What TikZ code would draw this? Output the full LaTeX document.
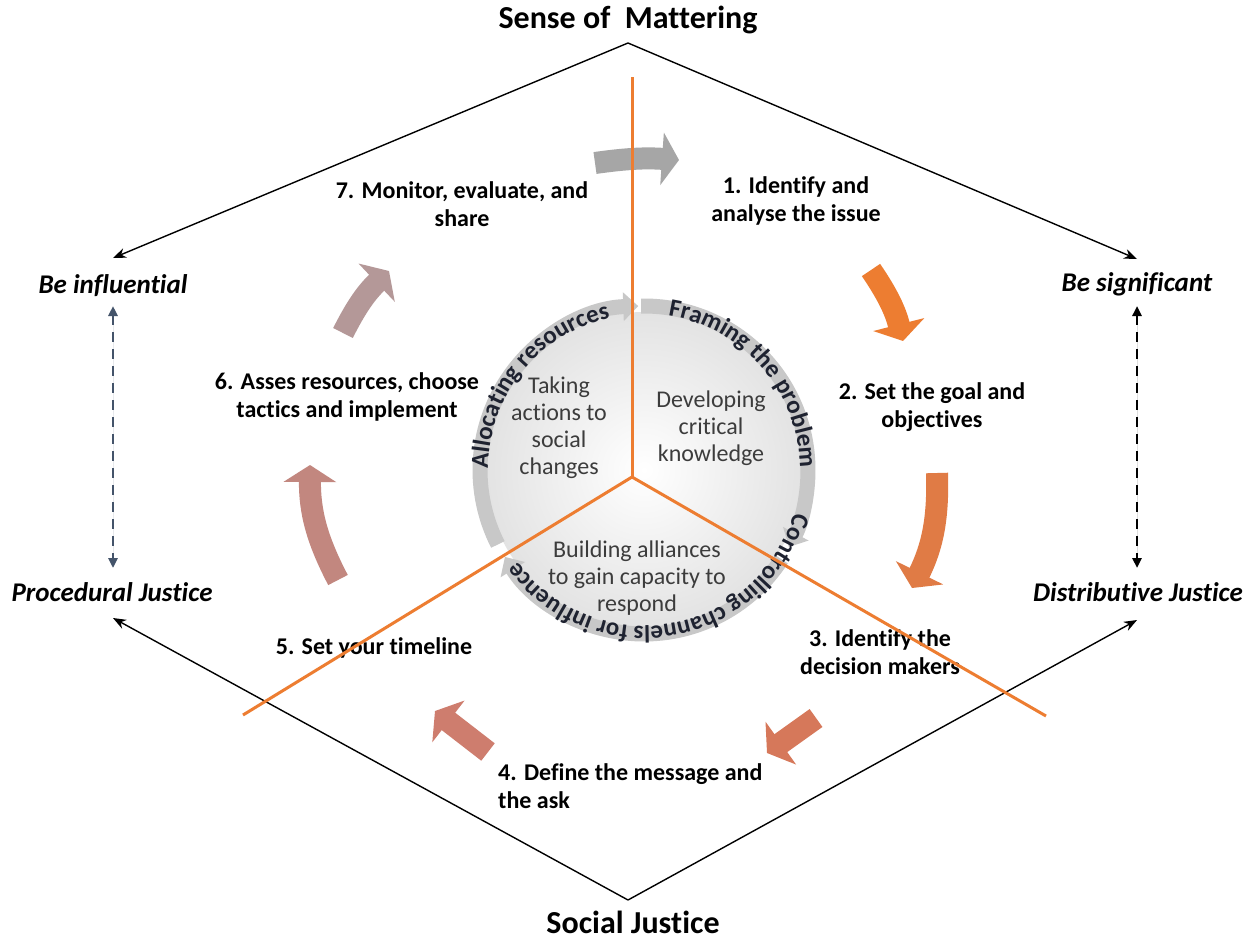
\documentclass[tikz,border=0pt]{standalone}
\usepackage{fontspec}
\setmainfont{Carlito}[Ligatures=NoCommon]
\usetikzlibrary{arrows.meta,decorations.text,calc}
\definecolor{orng}{HTML}{ED7D31}
\definecolor{ringgray}{HTML}{C8C8C8}
\definecolor{innergray}{HTML}{3C3C3C}
\definecolor{ringtext}{HTML}{1E2230}
\definecolor{slate}{HTML}{44546A}
\definecolor{arA}{HTML}{A6A6A6}
\definecolor{arB}{HTML}{ED7D31}
\definecolor{arC}{HTML}{E07B45}
\definecolor{arD}{HTML}{D6785A}
\definecolor{arE}{HTML}{CE7D6E}
\definecolor{arF}{HTML}{C2877F}
\definecolor{arG}{HTML}{B49898}
\newcommand\ringfont{\fontsize{25}{25}\selectfont\bfseries\color{ringtext}}
\begin{document}
\begin{tikzpicture}[x=1pt,y=1pt,
  titlelbl/.style={font=\fontsize{32}{38}\selectfont\bfseries, inner sep=0, anchor=base},
  sidelbl/.style={font=\fontsize{27}{32}\selectfont\bfseries\itshape, inner sep=0, anchor=base},
  steplbl/.style={font=\fontsize{24}{28}\selectfont\bfseries, align=center, inner sep=0},
  innerlbl/.style={font=\fontsize{24}{27}\selectfont, text=innergray, align=center, inner sep=0},
  hexedge/.style={line width=1.4pt, -{Stealth[length=13pt,width=10pt]}},
  dasharrow/.style={line width=2.5pt, dash pattern=on 10pt off 7pt, {Triangle[length=10pt,width=9pt]}-{Triangle[length=10pt,width=9pt]}},
  blockarrow/.style={line width=22pt, -{Triangle[width=52pt,length=17pt]}},
  ringarc/.style={line width=15pt, draw=ringgray, -{Triangle[width=28pt,length=15pt]}},
  split/.style={line width=3pt, draw=orng}
]
\fill[white] (0,0) rectangle (1252,-943);
\useasboundingbox (0,0) rectangle (1252,-943);

% --- hexagon frame -------------------------------------------------
\coordinate (top) at (628,-43);
\coordinate (bot) at (628,-900);
\coordinate (tl) at (113,-258);
\coordinate (tr) at (1137,-259);
\coordinate (bl) at (113,-618);
\coordinate (br) at (1137,-620);
\draw[hexedge] (top) -- (tl);
\draw[hexedge] (top) -- (tr);
\draw[hexedge] (bot) -- (bl);
\draw[hexedge] (bot) -- (br);

\node[titlelbl] (som) at (628,-28) {Sense of\ \ Mattering};
\node[titlelbl] (sj) at (633,-933) {Social Justice};
\node[sidelbl] (bi) at (113,-293) {Be influential};
\node[sidelbl] (bs) at (1137,-291) {Be significant};
\node[sidelbl] (pj) at (112,-601) {Procedural Justice};
\node[sidelbl] (dj) at (1138,-601) {Distributive Justice};

\coordinate (l1) at (113,-306);
\coordinate (l2) at (113,-568);
\coordinate (r1) at (1137,-306);
\coordinate (r2) at (1137,-568);
\draw[dasharrow, draw=slate, fill=slate] (l1) -- (l2);
\draw[dasharrow, draw=black, fill=black] (r1) -- (r2);

% --- block arrows of the cycle --------------------------------------
\coordinate (a1s) at (595,-163); \coordinate (a1e) at (679,-160);
\coordinate (a2s) at (871,-270); \coordinate (a2e) at (903,-341);
\coordinate (a3s) at (937,-473); \coordinate (a3e) at (912,-588);
\coordinate (a4s) at (816,-718); \coordinate (a4e) at (767,-753);
\coordinate (a5s) at (488,-752); \coordinate (a5e) at (435,-711);
\coordinate (a6s) at (338,-580); \coordinate (a6e) at (310,-465);
\coordinate (a7s) at (343,-333); \coordinate (a7e) at (389,-271);
\draw[blockarrow, draw=arA] (a1s) to[bend left=6] (a1e);
\draw[blockarrow, draw=arB] (a2s) to[bend left=10] (a2e);
\draw[blockarrow, draw=arC] (a3s) to[bend left=14] (a3e);
\draw[blockarrow, draw=arD] (a4s) -- (a4e);
\draw[blockarrow, draw=arE] (a5s) -- (a5e);
\draw[blockarrow, draw=arF] (a6s) to[bend left=14] (a6e);
\draw[blockarrow, draw=arG] (a7s) to[bend left=10] (a7e);

% --- central circle -------------------------------------------------
\coordinate (C) at (644,-470);
\def\R{164}
\shade[inner color=white, outer color=gray!22] (C) circle (\R-6);
\draw[ringarc] ($(C)+(91:\R)$) arc[start angle=91, end angle=-28, radius=\R];
\draw[ringarc] ($(C)+(-33:\R)$) arc[start angle=-33, end angle=-148, radius=\R];
\draw[ringarc] ($(C)+(-153:\R)$) arc[start angle=-153, end angle=-268, radius=\R];

\path[decorate, decoration={text along path, text align=center,
  text={|\ringfont|Framing the problem}}]
  ($(C)+(92:\R-8)$) arc[start angle=92, end angle=-10, radius=\R-8];
\path[decorate, decoration={text along path, text align=center,
  text={|\ringfont|Controlling channels for influence}}]
  ($(C)+(-15:\R-8)$) arc[start angle=-15, end angle=-145, radius=\R-8];
\path[decorate, decoration={text along path, text align=center,
  text={|\ringfont|Allocating resources}}]
  ($(C)+(195:\R-8)$) arc[start angle=195, end angle=87, radius=\R-8];

\node[innerlbl] (take) at (559,-428) {Taking\\actions to\\social\\changes};
\node[innerlbl] (dev) at (711,-428) {Developing\\critical\\knowledge};
\node[innerlbl] (build) at (637,-578) {Building alliances\\to gain capacity to\\respond};

% --- step labels ----------------------------------------------------
\node[steplbl] (s1) at (796,-201) {1. Identify and\\analyse the issue};
\node[steplbl] (s2) at (932,-407) {2. Set the goal and\\objectives};
\node[steplbl] (s3) at (880,-652) {3. Identify the\\decision makers};
\node[steplbl, align=left, anchor=west] (s4) at (498,-786) {4. Define the message and\\the ask};
\node[steplbl] (s5) at (374,-648) {5. Set your timeline};
\node[steplbl] (s6) at (347,-397) {6. Asses resources, choose\\tactics and implement};
\node[steplbl] (s7) at (462,-204) {7. Monitor, evaluate, and\\share};

% --- orange dividing lines -------------------------------------------
\coordinate (O) at (632,-477);
\coordinate (o1) at (632,-77);
\coordinate (o2) at (243,-715);
\coordinate (o3) at (1046,-716);
\draw[split] (O) -- (o1);
\draw[split] (O) -- (o2);
\draw[split] (O) -- (o3);
\end{tikzpicture}
\end{document}
